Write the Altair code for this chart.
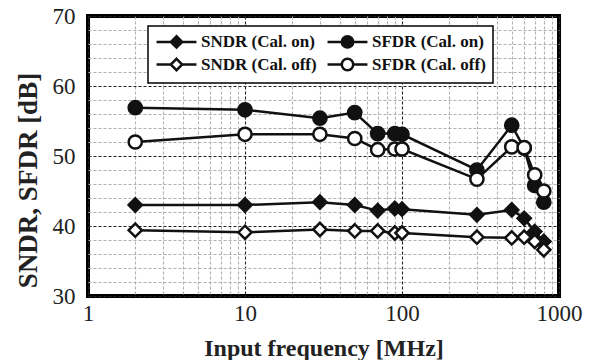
import altair as alt
import pandas as pd

# ---- data ----
freq = [2, 10, 30, 50, 70, 90, 100, 300, 500, 600, 700, 800]
sndr_on = [43.0, 43.0, 43.4, 43.0, 42.2, 42.5, 42.4, 41.6, 42.3, 41.1, 39.2, 37.8]
sfdr_on = [56.9, 56.6, 55.4, 56.2, 53.2, 53.2, 53.1, 48.0, 54.4, 51.1, 45.8, 43.4]
sndr_off = [39.4, 39.1, 39.5, 39.3, 39.3, 39.0, 39.0, 38.4, 38.3, 38.4, 37.8, 36.6]
sfdr_off = [52.0, 53.1, 53.1, 52.5, 50.9, 51.0, 51.0, 46.7, 51.3, 51.2, 47.3, 45.0]

series_names = ["SNDR (Cal. on)", "SFDR (Cal. on)", "SNDR (Cal. off)", "SFDR (Cal. off)"]
series_values = [sndr_on, sfdr_on, sndr_off, sfdr_off]
marker_shapes = ["diamond", "circle", "diamond", "circle"]
marker_fills = ["#111111", "#111111", "#ffffff", "#ffffff"]
marker_strokes = ["#111111", "#111111", "#111111", "#111111"]

# legend symbols: line stub + marker
diamond_leg = "M-3.5,0L-1,0M1,0L3.5,0M0,-1L1,0L0,1L-1,0Z"
circle_leg = "M-3.5,0L-1,0M1,0L3.5,0M1,0A1,1,0,1,1,-1,0A1,1,0,1,1,1,0Z"
legend_shapes = [diamond_leg, circle_leg, diamond_leg, circle_leg]

x_tick_values = [1, 2, 3, 4, 5, 6, 7, 8, 9,
                 10, 20, 30, 40, 50, 60, 70, 80, 90,
                 100, 200, 300, 400, 500, 600, 700, 800, 900, 1000]
x_label_values = [1, 10, 100, 1000]
y_tick_values = list(range(30, 72, 2))

rows = []
for k, (name, vals) in enumerate(zip(series_names, series_values)):
    for f, v in zip(freq, vals):
        rows.append({"series": name, "order": k, "f": f, "db": v})
df = pd.DataFrame(rows)

FONT = "Liberation Serif, Times New Roman, serif"
major_x = "indexof(%s, datum.value) >= 0" % str(x_label_values).replace(" ", "")

xaxis = alt.Axis(
    values=x_tick_values,
    labelExpr=major_x + " ? '' + datum.value : ''",
    grid=True,
    gridColor={"condition": {"test": major_x, "value": "#222222"}, "value": "#b0b0b0"},
    gridDash=[3, 2], gridWidth=1.1,
    domain=False, ticks=False, tickSize=0,
    labelFont=FONT, labelFontSize=23, labelColor="#222222", labelPadding=6,
    labelFlush=False, labelOverlap=False, labelBound=False,
    title="Input frequency [MHz]", titleFont=FONT, titleFontSize=24,
    titleFontWeight="bold", titleColor="#222222", titleY=59, titleBaseline="alphabetic",
)
yaxis = alt.Axis(
    values=y_tick_values,
    labelExpr="datum.value % 10 === 0 ? datum.label : ''",
    grid=True,
    gridColor={"condition": {"test": "datum.value % 10 === 0", "value": "#222222"}, "value": "#b0b0b0"},
    gridDash=[3, 2], gridWidth=1.1,
    domain=False, ticks=False, tickSize=0,
    labelFont=FONT, labelFontSize=23, labelColor="#222222", labelPadding=13,
    labelOverlap=False, labelBound=False,
    title="SNDR, SFDR [dB]", titleFont=FONT, titleFontSize=27,
    titleFontWeight="bold", titleColor="#222222",
    titleAngle=270, titleX=-52, titleY=164, titleAlign="center", titleBaseline="alphabetic",
)

base = alt.Chart(df).encode(
    x=alt.X("f:Q", scale=alt.Scale(type="log", domain=[1, 1000]), axis=xaxis),
    y=alt.Y("db:Q", scale=alt.Scale(domain=[30, 70]), axis=yaxis),
)

lines = base.mark_line(color="#111111", strokeWidth=2.5).encode(
    detail="series:N", order="f:Q"
)

points = base.mark_point(filled=False, stroke="#111111", strokeWidth=2.5, size=175, opacity=1).encode(
    shape=alt.Shape("series:N", scale=alt.Scale(domain=series_names, range=marker_shapes), legend=None),
    fill=alt.Fill("series:N", scale=alt.Scale(domain=series_names, range=marker_fills), legend=None),
    order=alt.Order("order:Q"),
)

leg = alt.Legend(
    title=None, orient="none", legendX=60, legendY=10, columns=2, direction="horizontal",
    fillColor="white", strokeColor="black", padding=7,
    labelFont=FONT, labelFontSize=17, labelFontWeight="bold", labelColor="#111111",
    symbolSize=130, symbolStrokeWidth=2.5, symbolOpacity=1,
    symbolOffset=13, labelOffset=16, columnPadding=5, rowPadding=0,
)

legend_layer = base.mark_point(filled=False, strokeWidth=2.5, opacity=1).transform_filter(
    "datum.f < 0"
).encode(
    shape=alt.Shape("series:N", scale=alt.Scale(domain=series_names, range=legend_shapes), legend=leg),
    fill=alt.Fill("series:N", scale=alt.Scale(domain=series_names, range=marker_fills), legend=leg),
    stroke=alt.Stroke("series:N", scale=alt.Scale(domain=series_names, range=marker_strokes), legend=leg),
)

chart = alt.layer(lines, points, legend_layer).resolve_scale(
    shape="independent", fill="independent", stroke="independent"
).properties(
    width=471, height=280,
    autosize=alt.AutoSizeParams(type="none"),
    padding={"left": 88, "top": 16, "right": 36, "bottom": 64},
    background="white",
).configure(
    font="Liberation Serif"
).configure_view(
    stroke="black", strokeWidth=4
).configure_legend(
    strokeWidth=1.5
)

chart.save("out.html", embed_options={"renderer": "svg", "actions": False})
